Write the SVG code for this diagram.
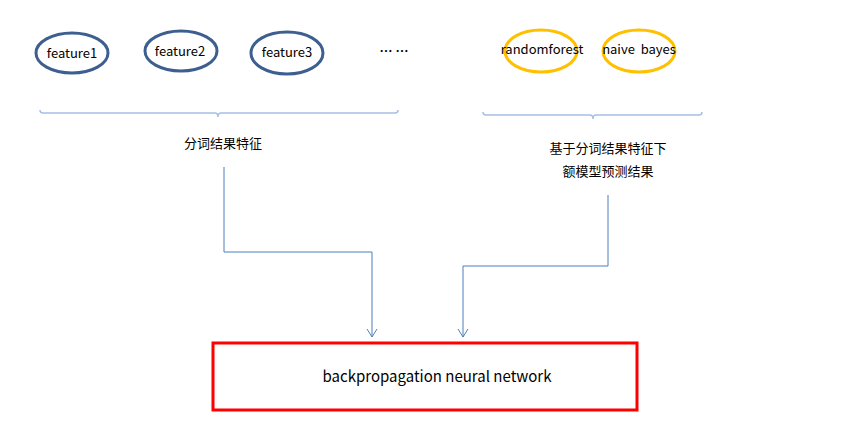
<svg xmlns="http://www.w3.org/2000/svg" width="846" height="440" viewBox="0 0 846 440">
<style>
text{font-family:"Noto Sans CJK SC","Noto Sans",sans-serif;fill:#000;text-anchor:middle}
.f{fill:none;stroke:#3d5f8f;stroke-width:3}
.m{fill:none;stroke:#ffc000;stroke-width:3}
.b{fill:none;stroke:#a5bfe6;stroke-width:1.5}
.c{fill:none;stroke:#4f7fbd;stroke-width:1}
.t{font-size:13px}
</style>
<defs>
<marker id="a" markerWidth="12" markerHeight="12" refX="10" refY="6" orient="auto" markerUnits="userSpaceOnUse">
<path d="M2,1 L10,6 L2,11" fill="none" stroke="#4f7fbd" stroke-width="1"/>
</marker>
</defs>
<rect width="846" height="440" fill="#fff"/>
<g id="feature1"><ellipse class="f" cx="72" cy="53" rx="36" ry="20"/><text class="t" x="72" y="58">feature1</text></g>
<g id="feature2"><ellipse class="f" cx="181" cy="51" rx="36" ry="20"/><text class="t" x="180" y="56">feature2</text></g>
<g id="feature3"><ellipse class="f" cx="287" cy="53" rx="36" ry="21"/><text class="t" x="287" y="57">feature3</text></g>
<g id="dots"><text class="t" x="394" y="56" style="font-weight:bold">… …</text></g>
<g id="randomforest"><ellipse class="m" cx="541" cy="51" rx="36" ry="21"/><text class="t" x="542" y="54">randomforest</text></g>
<g id="naivebayes"><ellipse class="m" cx="639" cy="51" rx="36" ry="21"/><text class="t" x="639" y="54" xml:space="preserve">naive  bayes</text></g>
<g id="bracket1"><path class="b" d="M40,110 Q40,113 43,113 L215,113 Q218,113 218,117 Q218,113 221,113 L395,113 Q398,113 398,110"/><text class="t" x="223" y="148">分词结果特征</text></g>
<g id="bracket2"><path class="b" d="M483,112 Q483,115 486,115 L590,115 Q593,115 593,119 Q593,115 596,115 L699,115 Q702,115 702,112"/><text class="t" x="608" y="153">基于分词结果特征下</text><text class="t" x="608" y="176">额模型预测结果</text></g>
<g id="bpnn"><rect x="213" y="343" width="424" height="67" fill="none" stroke="#ff0000" stroke-width="3"/><text x="437" y="382" style="font-size:15px">backpropagation neural network</text></g>
<g id="connectors">
<path class="c" d="M224,167 L224,252 L372,252 L372,337" marker-end="url(#a)"/>
<path class="c" d="M608,195 L608,266 L463,266 L463,337" marker-end="url(#a)"/>
</g>
</svg>
